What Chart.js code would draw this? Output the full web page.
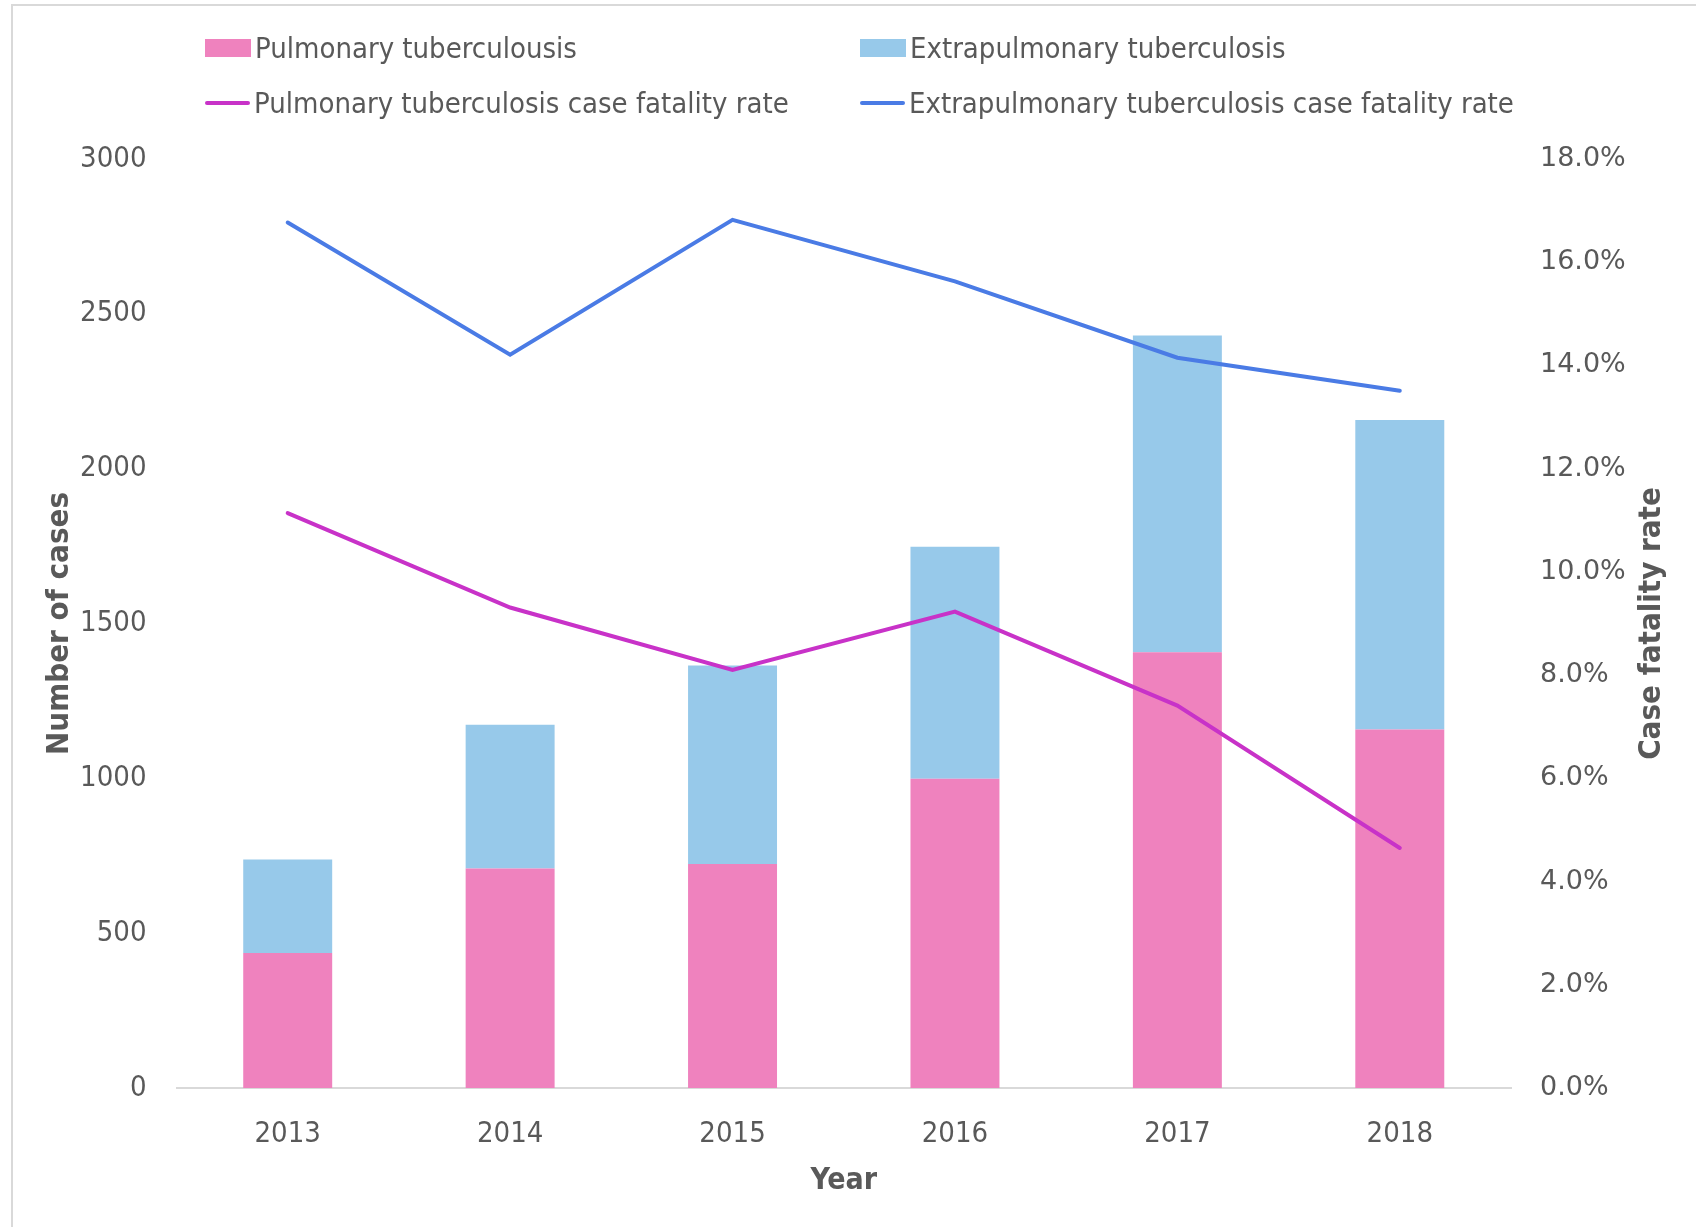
<!DOCTYPE html>
<html>
<head>
<meta charset="utf-8">
<script src="https://cdn.jsdelivr.net/npm/chart.js@4.4.1/dist/chart.umd.min.js"></script>
<style>
    body { margin: 0; background: #fff; }
    #frame {
        position: absolute; left: 11px; top: 4px; width: 1700px; height: 1240px;
        border-left: 2px solid #d9d9d9; border-top: 2px solid #d9d9d9;
    }
    #chart { position: absolute; left: 0; top: 0; }
    #legend {
        position: absolute; left: 0; top: 0; width: 1696px; height: 130px;
        font-family: 'DejaVu Sans Condensed', 'Liberation Sans Narrow', 'DejaVu Sans', sans-serif;
        font-size: 29px; color: #595959;
    }
    .item { position: absolute; height: 36px; display: flex; align-items: center; white-space: nowrap; }
    .swatch { flex: none; margin-right: 4px; }
</style>
</head>
<body>
<div id="frame"></div>
<canvas id="chart" width="1696" height="1227"></canvas>
<div id="legend"></div>
<script>
// values
const years = ['2013', '2014', '2015', '2016', '2017', '2018'];
const pulmonaryCases = [436, 709, 723, 999, 1407, 1158];
const extrapulmonaryCases = [302, 464, 641, 749, 1023, 999];
const pulmonaryFatality = [11.14, 9.31, 8.10, 9.23, 7.41, 4.65];
const extrapulmonaryFatality = [16.77, 14.21, 16.82, 15.63, 14.15, 13.51];

const textColor = '#595959';
const narrow = "'DejaVu Sans Condensed', 'Liberation Sans Narrow', 'DejaVu Sans'";
const wide = "'DejaVu Sans'";

// legend cells: [left of swatch, top of row]
const legendSpots = [[205, 30], [860, 30], [205, 85], [860, 85]];

// right axis title reads bottom-to-top, so it is drawn here
const rightTitle = {
    id: 'rightTitle',
    afterDraw (chart) {
        const s = chart.scales.y1;
        const ctx = chart.ctx;
        ctx.save();
        ctx.translate(s.right - 44, (s.top + s.bottom) / 2);
        ctx.rotate(-Math.PI / 2);
        ctx.font = 'bold 31px ' + narrow;
        ctx.fillStyle = textColor;
        ctx.textAlign = 'center';
        ctx.textBaseline = 'middle';
        ctx.fillText('Case fatality rate', 0, 0);
        ctx.restore();
    }
};

const htmlLegend = {
    id: 'htmlLegend',
    afterUpdate (chart) {
        const box = document.getElementById('legend');
        box.innerHTML = '';
        chart.data.datasets.forEach((ds, i) => {
            const item = document.createElement('div');
            item.className = 'item';
            item.style.left = legendSpots[i][0] + 'px';
            item.style.top = legendSpots[i][1] + 'px';
            const sw = document.createElement('span');
            sw.className = 'swatch';
            if (ds.type === 'line') {
                sw.style.cssText = `width:45px;height:4px;border-radius:2px;background:${ds.borderColor}`;
            } else {
                sw.style.cssText = `width:46px;height:18px;background:${ds.backgroundColor}`;
            }
            item.appendChild(sw);
            item.appendChild(document.createTextNode(ds.label));
            box.appendChild(item);
        });
    }
};

new Chart(document.getElementById('chart').getContext('2d'), {
    data: {
        labels: years,
        datasets: [
            {
                type: 'bar',
                label: 'Pulmonary tuberculousis',
                data: pulmonaryCases,
                backgroundColor: '#EF82BE',
                yAxisID: 'y',
                order: 1
            },
            {
                type: 'bar',
                label: 'Extrapulmonary tuberculosis',
                data: extrapulmonaryCases,
                backgroundColor: '#97C9EA',
                yAxisID: 'y',
                order: 1
            },
            {
                type: 'line',
                label: 'Pulmonary tuberculosis case fatality rate',
                data: pulmonaryFatality,
                borderColor: '#C832C8',
                borderWidth: 4,
                borderCapStyle: 'round',
                pointRadius: 0,
                yAxisID: 'y1',
                order: 0
            },
            {
                type: 'line',
                label: 'Extrapulmonary tuberculosis case fatality rate',
                data: extrapulmonaryFatality,
                borderColor: '#4A7BE5',
                borderWidth: 4,
                borderCapStyle: 'round',
                pointRadius: 0,
                yAxisID: 'y1',
                order: 0
            }
        ]
    },
    options: {
        responsive: false,
        animation: false,
        devicePixelRatio: 1,
        layout: { padding: { top: 159, left: 0, right: 0, bottom: 0 } },
        datasets: { bar: { categoryPercentage: 1, barPercentage: 0.4, borderWidth: 0 } },
        plugins: { legend: { display: false }, tooltip: { enabled: false } },
        scales: {
            x: {
                stacked: true,
                grid: { display: false, drawTicks: false },
                border: { display: true, color: '#d9d9d9', width: 2 },
                ticks: { color: textColor, padding: 29, font: { family: narrow, size: 29 } },
                title: {
                    display: true, text: 'Year', color: textColor,
                    font: { family: narrow, size: 30, weight: 'bold' },
                    padding: { top: 0, bottom: 28 }
                },
                afterFit (s) { s.height = 139; }
            },
            y: {
                position: 'left',
                stacked: true,
                min: 0, max: 3000,
                grid: { display: false, drawTicks: false },
                border: { display: false },
                ticks: {
                    stepSize: 500, color: textColor, padding: 30,
                    font: { family: narrow, size: 29 },
                    callback: v => String(v)
                },
                title: {
                    display: true, text: 'Number of cases', color: textColor,
                    font: { family: narrow, size: 31, weight: 'bold' },
                    padding: { top: 41, bottom: 0 }
                },
                afterFit (s) { s.width = 176.5; }
            },
            y1: {
                position: 'right',
                min: 0, max: 18,
                grid: { display: false, drawTicks: false },
                border: { display: false },
                ticks: {
                    stepSize: 2, color: textColor, padding: 29,
                    font: { family: wide, size: 27 },
                    callback: v => v.toFixed(1) + '%'
                },
                afterFit (s) { s.width = 185; }
            }
        }
    },
    plugins: [rightTitle, htmlLegend]
});
</script>
</body>
</html>
